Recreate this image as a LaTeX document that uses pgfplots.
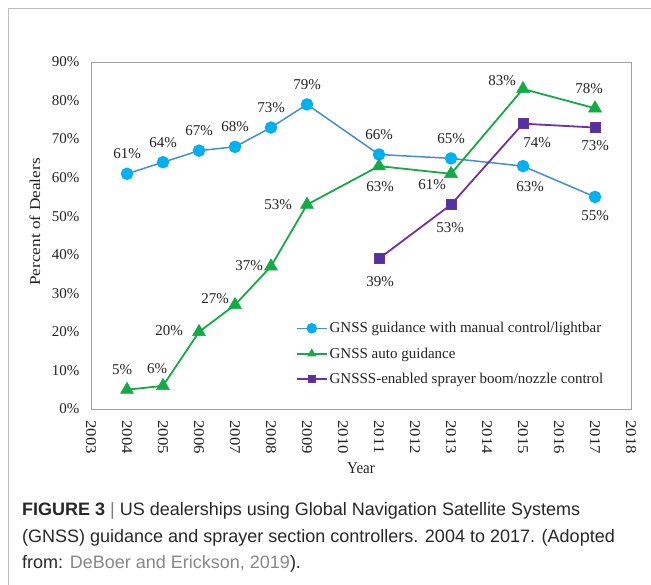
\documentclass[border=0pt]{standalone}
\usepackage{pgfplots}
\pgfplotsset{compat=1.18}
\usepackage{fontspec}
\setmainfont{Liberation Serif}
\newfontfamily\capfont{Liberation Sans}

\definecolor{cBlueLine}{RGB}{70,140,210}
\definecolor{cBlueMark}{RGB}{0,176,240}
\definecolor{cGreen}{RGB}{20,170,70}
\definecolor{cPurple}{RGB}{112,48,160}
\definecolor{cPurpleFill}{RGB}{80,50,160}
\definecolor{cFrame}{RGB}{190,190,190}
\definecolor{cAxis}{RGB}{160,160,160}
\definecolor{cText}{RGB}{35,35,35}
\definecolor{cCap}{RGB}{40,40,40}
\definecolor{cLink}{RGB}{135,135,135}

\newcommand{\chartfont}{\fontsize{15bp}{17bp}\selectfont}
\newcommand{\capsize}{\fontsize{18bp}{21bp}\selectfont}

\begin{document}
\begin{tikzpicture}[x=1bp,y=1bp]
\path[use as bounding box] (0,0) rectangle (651,585);
\draw[cFrame, line width=1bp] (8.5,0) -- (8.5,576.5) -- (651,576.5);

\begin{axis}[
  at={(91bp,176bp)}, anchor=south west,
  scale only axis, width=540bp, height=347bp,
  xmin=2003, xmax=2018, ymin=0, ymax=90,
  axis line style={cAxis, line width=0.8bp},
  xtick={2003,2004,...,2018},
  ytick={0,10,...,90},
  major tick length=0pt,
  /pgf/number format/1000 sep={},
  /pgf/number format/assume math mode=true,
  xticklabel={\scalebox{1.12}[1]{\pgfmathprintnumber{\tick}}},
  yticklabel={\pgfmathprintnumber{\tick}\%},
  tick label style={font=\chartfont, text=cText},
  x tick label style={rotate=-90, anchor=west},
  xticklabel shift=8bp,
  yticklabel shift=8bp,
  clip=false,
  legend cell align=left,
  legend style={draw=none, fill=none, font=\chartfont, text=cText,
    at={(rel axis cs:0.379,0.256)}, anchor=north west,
    row sep=9.5bp, inner sep=0pt},
  legend image code/.code={
    \draw[#1, mark repeat=2, mark phase=2] plot coordinates {(0bp,0bp) (15bp,0bp) (30bp,0bp)};
  },
]

\addplot[cBlueLine, line width=1.5bp, mark=*, mark size=5.5bp,
  mark options={fill=cBlueMark, draw=cBlueMark}, forget plot] coordinates {
  (2004,61) (2005,64) (2006,67) (2007,68) (2008,73)
  (2009,79) (2011,66) (2013,65) (2015,63) (2017,55)
};
\addplot[cGreen, line width=1.8bp, mark=triangle*, mark size=7.5bp,
  mark options={fill=cGreen, draw=cGreen, line width=0.5bp}, forget plot] coordinates {
  (2004,5) (2005,6) (2006,20) (2007,27) (2008,37)
  (2009,53) (2011,63) (2013,61) (2015,83) (2017,78)
};
\addplot[cPurple, line width=1.8bp, mark=square*, mark size=5bp,
  mark options={fill=cPurpleFill, draw=cPurple, line width=1bp}, forget plot] coordinates {
  (2011,39) (2013,53) (2015,74) (2017,73)
};

\addlegendimage{cBlueLine, line width=1.5bp, mark=*, mark size=4.5bp, mark options={fill=cBlueMark, draw=cBlueMark}}
\addlegendentry{GNSS guidance with manual control/lightbar}
\addlegendimage{cGreen, line width=1.8bp, mark=triangle*, mark size=3.5bp, mark options={fill=cGreen, draw=cGreen}}
\addlegendentry{GNSS auto guidance}
\addlegendimage{cPurple, line width=1.8bp, mark=square*, mark size=3.5bp, mark options={fill=cPurpleFill, draw=cPurple, line width=0.8bp}}
\addlegendentry{GNSSS-enabled sprayer boom/nozzle control}

% value labels
\begin{scope}[every node/.style={font=\chartfont, text=cText, inner sep=0pt}]
\node[yshift=20bp] at (axis cs:2004,61) {61\%};
\node[yshift=20bp] at (axis cs:2005,64) {64\%};
\node[yshift=20bp] at (axis cs:2006,67) {67\%};
\node[yshift=20bp] at (axis cs:2007,68) {68\%};
\node[yshift=20bp] at (axis cs:2008,73) {73\%};
\node[yshift=20bp] at (axis cs:2009,79) {79\%};
\node[yshift=20bp] at (axis cs:2011,66) {66\%};
\node[yshift=20bp] at (axis cs:2013,65) {65\%};
\node[xshift=7bp, yshift=-21bp] at (axis cs:2015,63) {63\%};
\node[yshift=-19bp] at (axis cs:2017,55) {55\%};

\node[xshift=-5bp, yshift=20bp] at (axis cs:2004,5) {5\%};
\node[xshift=-6bp, yshift=17bp] at (axis cs:2005,6) {6\%};
\node[xshift=-30bp, yshift=1bp] at (axis cs:2006,20) {20\%};
\node[xshift=-20bp, yshift=6bp] at (axis cs:2007,27) {27\%};
\node[xshift=-22bp, yshift=1bp] at (axis cs:2008,37) {37\%};
\node[xshift=-29bp, yshift=0bp] at (axis cs:2009,53) {53\%};
\node[xshift=1bp, yshift=-21bp] at (axis cs:2011,63) {63\%};
\node[xshift=-19bp, yshift=-11bp] at (axis cs:2013,61) {61\%};
\node[xshift=-21bp, yshift=8bp] at (axis cs:2015,83) {83\%};
\node[xshift=-6bp, yshift=20bp] at (axis cs:2017,78) {78\%};

\node[xshift=1bp, yshift=-23bp] at (axis cs:2011,39) {39\%};
\node[xshift=-1bp, yshift=-23bp] at (axis cs:2013,53) {53\%};
\node[xshift=14bp, yshift=-19bp] at (axis cs:2015,74) {74\%};
\node[yshift=-18bp] at (axis cs:2017,73) {73\%};
\end{scope}
\end{axis}

\node[rotate=90, font=\chartfont, text=cText] at (35,363) {\scalebox{1.15}[1]{Percent of Dealers}};
\node[font=\chartfont, text=cText] at (361,117) {\scalebox{1}[1.1]{Year}};

\begin{scope}[every node/.style={anchor=base west, inner sep=0pt, font=\capfont\capsize, text=cCap}]
\node at (22,69) {\textbf{FIGURE 3} {\color{cText!60}|} US dealerships using Global Navigation Satellite Systems};
\node at (22,42) {(GNSS) guidance and sprayer section controllers. 2004 to 2017. (Adopted};
\node at (22,16) {from: {\color{cLink}DeBoer and Erickson, 2019}).};
\end{scope}
\end{tikzpicture}
\end{document}
